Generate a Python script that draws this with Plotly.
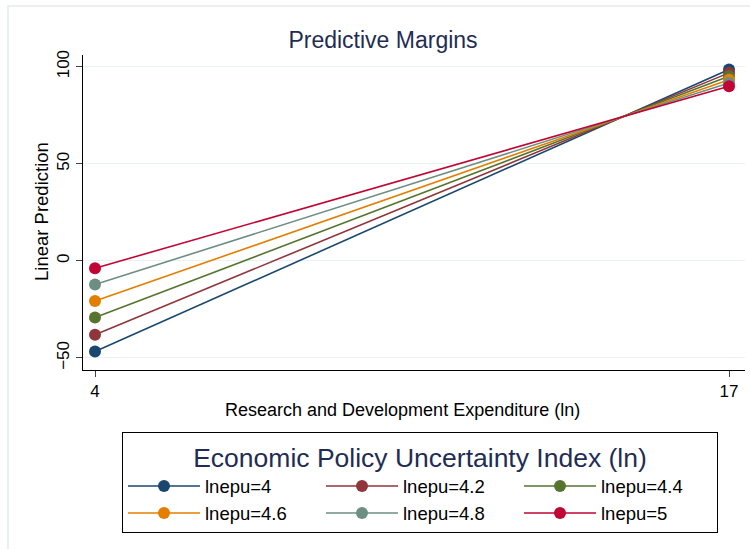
import plotly.graph_objects as go

x_vals = [4, 17]
series_names = ["lnepu=4", "lnepu=4.2", "lnepu=4.4", "lnepu=4.6", "lnepu=4.8", "lnepu=5"]
left_vals = [-46.7, -38.0, -29.2, -20.7, -12.2, -3.8]
right_vals = [98.5, 96.8, 95.0, 93.3, 91.6, 89.9]
colors = ["#1a476f", "#90353b", "#55752f", "#e37e00", "#6e8e84", "#c10534"]

L, R, T, B = 83, 745, 55, 370
W, H = 750, 549

fig = go.Figure()
for name, a, b, c in zip(series_names, left_vals, right_vals, colors):
    fig.add_trace(go.Scatter(
        x=x_vals, y=[a, b], mode="lines+markers", name=name,
        line=dict(color=c, width=1.6),
        marker=dict(color=c, size=12),
    ))

def px_x(p):
    return (p - L) / (R - L)

def px_y(p):
    return (B - p) / (B - T)

fig.update_layout(
    width=W, height=H,
    margin=dict(l=L, r=W - R, t=T, b=H - B, autoexpand=False),
    paper_bgcolor="white", plot_bgcolor="white",
    font=dict(family="Liberation Sans, Arial, sans-serif", color="black"),
    title=dict(text="Predictive Margins", x=383 / W, xanchor="center",
               y=1 - 40 / H, yanchor="middle",
               font=dict(size=23, color="#1f2d55")),
    xaxis=dict(range=[3.754, 17.328], tickvals=[4, 17], ticks="outside", ticklen=6,
               showgrid=False, zeroline=False, showline=True, linecolor="black",
               linewidth=1, tickfont=dict(size=17), automargin=False),
    yaxis=dict(range=[-56.2, 106], tickvals=[-50, 0, 50, 100], ticks="outside", ticklen=6,
               tickangle=-90, showgrid=True, gridcolor="#eaf2f3", gridwidth=1,
               zeroline=False, showline=True, linecolor="black", linewidth=1,
               tickfont=dict(size=17), automargin=False),
    showlegend=True,
    legend=dict(orientation="h", x=px_x(122), xanchor="left", y=px_y(432), yanchor="top",
                bordercolor="black", borderwidth=1, bgcolor="white",
                entrywidth=111, itemwidth=72, tracegroupgap=0,
                font=dict(size=18.5),
                title=dict(text="Economic Policy Uncertainty Index (ln)", side="top center",
                           font=dict(size=26.5, color="#1f2d55"))),
    annotations=[
        dict(text="Research and Development Expenditure (ln)", xref="paper", yref="paper",
             x=px_x(402), y=px_y(410), xanchor="center", yanchor="middle",
             showarrow=False, font=dict(size=18)),
        dict(text="Linear Prediction", xref="paper", yref="paper", textangle=-90,
             x=px_x(41), y=px_y(212), xanchor="center", yanchor="middle",
             showarrow=False, font=dict(size=18.5)),
    ],
    shapes=[dict(type="rect", xref="paper", yref="paper",
                 x0=px_x(8), x1=px_x(780), y0=px_y(6), y1=px_y(600),
                 line=dict(color="#e3ecee", width=1.5), layer="below")],
)

fig.write_html("out.html", config={"displayModeBar": False},
               post_script="document.body.style.margin='0';")
